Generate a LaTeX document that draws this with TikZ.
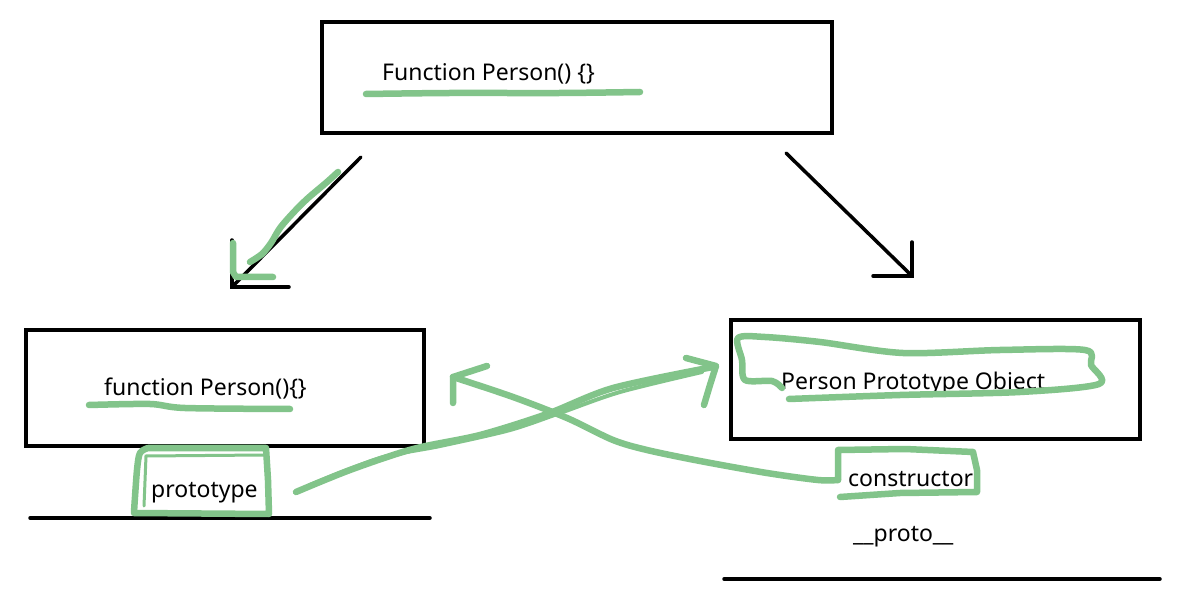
\documentclass[tikz,border=0pt]{standalone}
\usepackage{fontspec}
\setmainfont{Noto Sans}
\definecolor{pen}{RGB}{130,196,138}
\begin{document}
\begin{tikzpicture}[x=1pt,y=-1pt,
  boxline/.style={draw=black,line width=3.5pt},
  blk/.style={draw=black,line width=3.5pt,line cap=round,line join=miter},
  gpen/.style={draw=pen,line width=6.5pt,line cap=round,line join=round},
  lbl/.style={anchor=base west,inner sep=0pt,font=\fontsize{23}{28}\selectfont}]
\useasboundingbox[fill=white] (0,0) rectangle (1187,612);

% boxes
\draw[boxline] (322,22) rectangle (832,133);
\node[inner sep=0pt,minimum width=510pt,minimum height=111pt] (topbox) at (577,77.5) {};
\draw[boxline] (26,330) rectangle (424,446);
\node[inner sep=0pt,minimum width=398pt,minimum height=116pt] (leftbox) at (225,388) {};
\draw[boxline] (731,320) rectangle (1140,439);
\node[inner sep=0pt,minimum width=409pt,minimum height=119pt] (rightbox) at (935.5,379.5) {};

% texts
\node[lbl] (ftop) at (382,81) {Function Person() \{\}};
\node[lbl] (fleft) at (104,396) {function Person()\{\}};
\node[lbl] (proto) at (151,497) {prototype};
\node[lbl] (ppo) at (781,390) {Person Prototype Object};
\node[lbl] (ctor) at (848,486) {constructor};
\node[lbl] (dproto) at (853,541) {\_\_proto\_\_};

% base lines
\coordinate (la) at (30,518); \coordinate (lb) at (430,518);
\draw[blk] (la) -- (lb);
\coordinate (ra) at (724,579); \coordinate (rb) at (1160,579);
\draw[blk] (ra) -- (rb);

% black arrows
\coordinate (aLs) at (361,157); \coordinate (aLt) at (232,287);
\draw[blk] (aLs) -- (aLt);
\draw[blk] ([yshift=47pt]aLt) -- (aLt) -- ([xshift=57pt]aLt);
\coordinate (aRs) at (786,153); \coordinate (aRt) at (912,276);
\draw[blk] (aRs) -- (aRt);
\draw[blk] ([yshift=34pt]aRt) -- (aRt) -- ([xshift=-39pt]aRt);

% green underlines
\draw[gpen] plot[smooth] coordinates {(366,94) (450,93) (560,93) (640,92)};
\draw[gpen] plot[smooth] coordinates {(89,405) (150,404) (185,408) (290,409)};

% green left arrow
\draw[gpen] plot[smooth] coordinates {(338,172) (327,182) (307,199) (293,213) (280,228) (271,243) (262,254) (250,262)};
\draw[gpen] (233,243) -- (233,272) -- (236,277) -- (273,277);

% prototype box
\draw[gpen] plot[smooth] coordinates {(134,512) (137,470) (140,453) (148,448)}
  -- (266,448) -- (268,480) -- (269,514) -- (134,513);
\draw[pen,line width=3pt,line cap=round] (144,506) -- (146,456) -- (264,455);

% Person Prototype Object loop
\draw[gpen] plot[smooth] coordinates {(789,399) (900,395) (1020,392) (1099,384) (1091,365) (1085,350) (1000,350) (903,353) (820,342) (765,337) (738,338) (742,360) (745,380) (772,381) (782,388)};

% constructor box
\draw[gpen] (838,480) -- (838,450) -- (905,449) -- (973,452) -- (977,470) -- (977,492) -- (900,493) -- (840,497);

% prototype -> Person Prototype Object
\coordinate (p1) at (296,492);
\coordinate (p2) at (716,366);
\draw[gpen] plot[smooth] coordinates {(296,492) (350,470) (413,449) (480,435) (547,414) (613,388) (713,367)};
\draw[pen,line width=4pt,line cap=round] plot[smooth] coordinates {(310,485) (380,458) (440,446) (510,430) (560,413) (620,392) (702,372)};
\draw[gpen] (686,358) -- (716,366) -- (710,385) -- (704,405);

% constructor -> function Person
\coordinate (c1) at (838,480);
\coordinate (c2) at (453,377);
\draw[gpen] plot[smooth] coordinates {(838,480) (818,480) (767,473) (700,461) (647,450) (613,440) (567,418) (513,397) (453,377)};
\draw[gpen] (487,366) -- (453,377) -- (453,403);
\end{tikzpicture}
\end{document}
